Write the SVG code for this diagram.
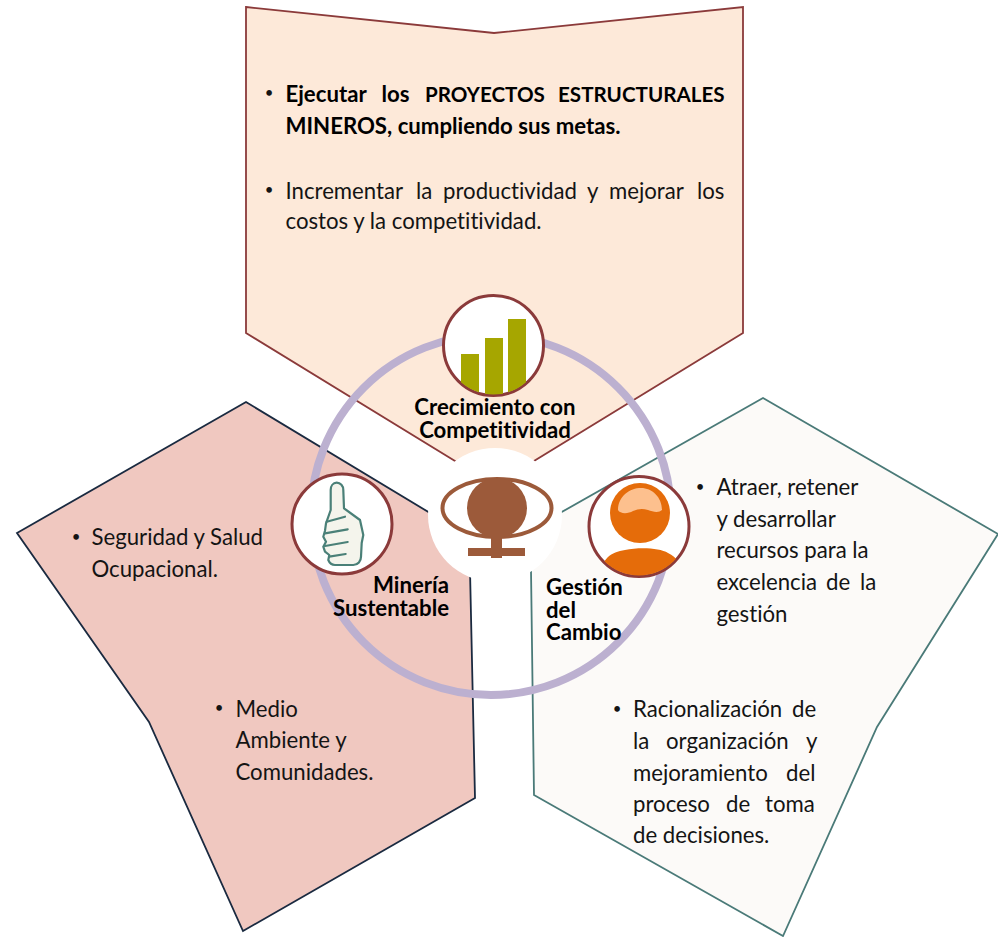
<svg xmlns="http://www.w3.org/2000/svg" width="998" height="937" viewBox="0 0 998 937">
<style>
text{font-family:"Lato","Carlito","Open Sans",sans-serif;font-size:22.2px;fill:#141414;font-variant-ligatures:none}
.b{font-weight:700;fill:#000}
.c{font-size:20.6px}
.d{font-size:15px;text-anchor:middle;fill:#141414}
.hub{fill:#fff;stroke:#8b3a3a;stroke-width:3}
.o{fill:#e56c0a}
.bar{fill:#a6a600}
.logo{fill:#9c5a3a}
</style>
<defs>
<clipPath id="c1"><circle cx="493.5" cy="345.5" r="49"/></clipPath>
<clipPath id="c3"><circle cx="639" cy="526.5" r="49"/></clipPath>
</defs>
<rect width="998" height="937" fill="#fff"/>
<g id="panel-top">
<path d="M246 7L494 33L743 7V333L534 461L495 490L455 461L246 333Z" fill="#fde9d9" stroke="#8b3a3a" stroke-width="1.8"/>
</g>
<g id="panel-left">
<path d="M246 402L17 533L149 722L243 931L475 798L470 570L430 513Z" fill="#f0c8c0" stroke="#1a2a40" stroke-width="1.8"/>
</g>
<g id="panel-right">
<path d="M763 398L998 534L877 727L783 936L534 795L531 570L560 513Z" fill="#fcfaf8" stroke="#4a7a78" stroke-width="1.8"/>
</g>
<g id="connectors">
<circle cx="491" cy="515" r="180" fill="none" stroke="#bcb0d0" stroke-width="8"/>
</g>
<g id="center-logo">
<circle cx="495" cy="515" r="67" fill="#fff"/>
<ellipse cx="497" cy="508" rx="54.5" ry="29" fill="none" stroke="#9c5a3a" stroke-width="4"/>
<circle class="logo" cx="497" cy="508" r="30"/>
<rect class="logo" x="491" y="535" width="11" height="23"/>
<rect class="logo" x="468" y="548" width="57" height="8"/>
</g>
<g id="node-growth">
<circle class="hub" cx="493.5" cy="345.5" r="50"/>
<g clip-path="url(#c1)">
<rect class="bar" x="461" y="354" width="18" height="50"/>
<rect class="bar" x="485" y="338" width="18" height="60"/>
<rect class="bar" x="508" y="319" width="18" height="80"/>
</g>
<text class="b" x="495" y="415" text-anchor="middle">Crecimiento con</text>
<text class="b" x="495" y="438" text-anchor="middle">Competitividad</text>
</g>
<g id="node-mining">
<circle class="hub" cx="342" cy="524" r="50"/>
<path d="M336.7 482.7C333 482.7 330.7 486 330.7 490V510L326 523.3L325 530.7L323.3 536.7L326 541.7L323.3 546.7L325 551.7L329.3 555L328.3 560C329.5 563 332 565 335 565H353.3C358 565 361 561 361 556.7L361.7 543L363.3 535L360 520L344 508.3L343.3 490C343.3 486 340.5 482.7 336.7 482.7Z" fill="#f4f4ec" stroke="#4a8078" stroke-width="2.2" stroke-linejoin="round"/>
<path d="M326.7 521.7L345 516.7M325 533.3L347.7 529.3M325 546L347.7 542M329.3 556.7L345.7 554" fill="none" stroke="#4a8078" stroke-width="2.2" stroke-linecap="round"/>
<text class="b" x="449" y="593" text-anchor="end">Minería</text>
<text class="b" x="449" y="616" text-anchor="end">Sustentable</text>
</g>
<g id="node-change">
<circle class="hub" cx="639" cy="526.5" r="50"/>
<g clip-path="url(#c3)">
<circle class="o" cx="640" cy="513" r="30"/>
<path d="M618 510C618 496 630 488 641 488C652 488 662 497 662 510C659 513 653 512 648 510C642 508 638 509 633 511C628 514 620 514 618 510Z" fill="#fdc08e"/>
<path d="M600 580C600 560 610 552 625 550C640 547 660 548 668 553C678 558 682 565 685 580Z" class="o"/>
</g>
<text class="b" x="546" y="595">Gestión</text>
<text class="b" x="546" y="618">del</text>
<text class="b" x="546" y="640">Cambio</text>
</g>
<g id="text-top">
<text class="d" x="269" y="98">•</text>
<text class="b" y="102"><tspan x="285.5">Ejecutar</tspan> <tspan x="381.5">los</tspan> <tspan class="c" x="425">PROYECTOS</tspan> <tspan class="c" x="558">ESTRUCTURALES</tspan></text>
<text class="b" x="285.5" y="134">MINEROS, cumpliendo sus metas.</text>
<text class="d" x="269" y="195">•</text>
<text y="199"><tspan x="285.5">Incrementar</tspan> <tspan x="416">la</tspan> <tspan x="443">productividad</tspan> <tspan x="587">y</tspan> <tspan x="609">mejorar</tspan> <tspan x="697">los</tspan></text>
<text x="285.5" y="229">costos y la competitividad.</text>
</g>
<g id="text-left">
<text class="d" x="76" y="542">•</text>
<text x="91.5" y="545">Seguridad y Salud</text>
<text x="91.5" y="577">Ocupacional.</text>
<text class="d" x="219" y="713">•</text>
<text x="235.5" y="717">Medio</text>
<text x="235.5" y="748">Ambiente y</text>
<text x="235.5" y="780">Comunidades.</text>
</g>
<g id="text-right">
<text class="d" x="700" y="492">•</text>
<text x="716.5" y="495">Atraer, retener</text>
<text x="716.5" y="527">y desarrollar</text>
<text x="716.5" y="558">recursos para la</text>
<text y="590"><tspan x="716.5">excelencia</tspan> <tspan x="826">de</tspan> <tspan x="860">la</tspan></text>
<text x="716.5" y="622">gestión</text>
<text class="d" x="617" y="714">•</text>
<text y="717"><tspan x="633">Racionalización</tspan> <tspan x="792">de</tspan></text>
<text y="749"><tspan x="633">la</tspan> <tspan x="666">organización</tspan> <tspan x="806">y</tspan></text>
<text y="781"><tspan x="633">mejoramiento</tspan> <tspan x="786">del</tspan></text>
<text y="812"><tspan x="633">proceso</tspan> <tspan x="726">de</tspan> <tspan x="765">toma</tspan></text>
<text x="633" y="843">de decisiones.</text>
</g>
</svg>
